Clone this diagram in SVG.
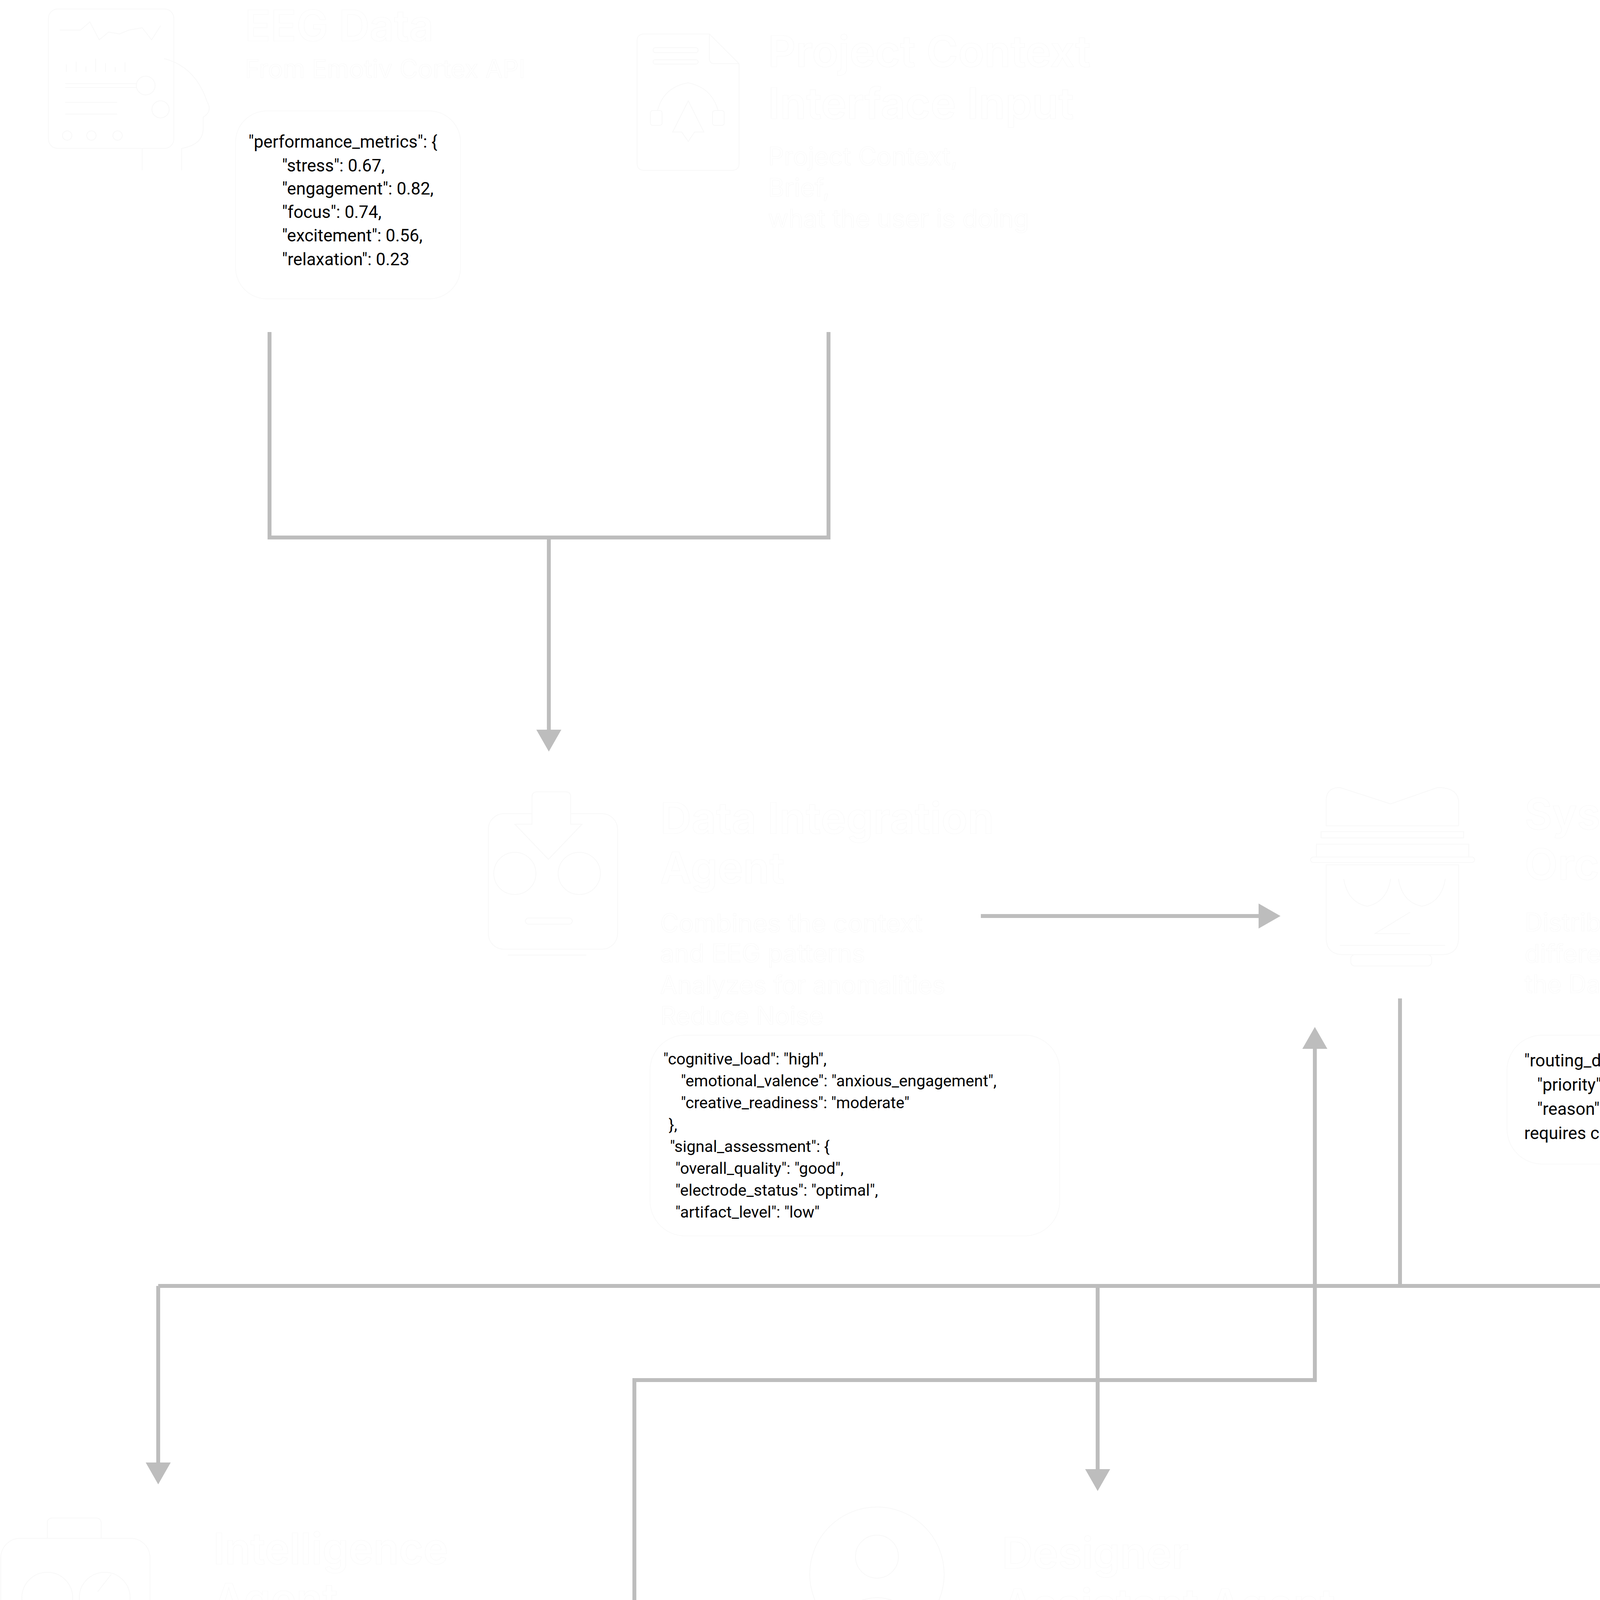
<svg xmlns="http://www.w3.org/2000/svg" width="5715" height="5332" viewBox="0 0 5715 5332">
<defs>
<style>
.ghost{fill:#ffffff;stroke:#f9f9f9;stroke-width:1.2}
.gt{font-family:Inter,"Noto Sans",sans-serif;font-weight:600;font-size:110px}
.gd{font-family:Inter,"Noto Sans",sans-serif;font-weight:400;font-size:64px}
.ic{fill:#ffffff;stroke:#f8f8f8;stroke-width:2}
.box{fill:#ffffff;stroke:#f9f9f9;stroke-width:2}
.j1{font-family:Roboto,"Liberation Sans",sans-serif;font-size:44px;fill:#000000}
.j2{font-family:Roboto,"Liberation Sans",sans-serif;font-size:41px;fill:#000000}
.jr{font-family:Roboto,"Liberation Sans",sans-serif;font-size:44px;fill:#000000}
.j3{font-family:Inter,"Liberation Sans",sans-serif;font-weight:300;font-size:43px;fill:#000000}
.conn{fill:none;stroke:#bdbdbd;stroke-width:10}
</style>
<marker id="arr" markerUnits="userSpaceOnUse" markerWidth="56" markerHeight="64" refX="0" refY="32" orient="auto">
<path d="M0 0 L56 32 L0 64 Z" fill="#bdbdbd"/>
</marker>
</defs>
<rect x="0" y="0" width="5715" height="5332" fill="#ffffff"/>

<g id="connectors" class="conn">
<path d="M690 850 V1376 H2121 V850"/>
<path d="M1405 1376 V1868" marker-end="url(#arr)"/>
<path d="M2511 2345 H3222" marker-end="url(#arr)"/>
<path d="M3584 2556 V3292"/>
<path d="M405 3292 H4884"/>
<path d="M405 3292 V3744" marker-end="url(#arr)"/>
<path d="M2810 3292 V3761" marker-end="url(#arr)"/>
<path d="M4884 3292 V3761" marker-end="url(#arr)"/>
<path d="M1245 4128 H1624 V3533 H3366 V2685" marker-end="url(#arr)"/>
<path d="M3547 4136 H4057" marker-end="url(#arr)"/>
</g>

<g id="node-eeg-data">
<g class="ic">
<rect x="124" y="23" width="321" height="357" rx="24"/>
<polyline fill="none" points="153,77 206,77 230,56 254,102 278,82 306,87 330,77 364,71 388,102 411,66"/>
<path fill="none" d="M170 184V165 M195 184V158 M220 184V170 M245 184V150 M270 184V162 M295 184V172 M320 184V160"/>
<path fill="none" d="M167 214H350 M167 224H350 M167 262H300 M167 292H300"/>
<circle cx="373" cy="219" r="24"/>
<circle cx="411" cy="280" r="22"/>
<circle cx="172" cy="347" r="12"/>
<circle cx="234" cy="347" r="12"/>
<circle cx="301" cy="347" r="12"/>
<path fill="none" d="M364 436 V380 M465 436 V380 Q520 370 520 330 V300 Q545 285 530 260 Q500 170 420 150"/>
</g>
<text class="ghost gt" x="627" y="105" font-size="107" textLength="483" lengthAdjust="spacingAndGlyphs">EEG Data</text>
<text class="ghost gd" x="627" y="199" textLength="718" lengthAdjust="spacingAndGlyphs">From Emotiv Cortex API</text>
<rect class="box" x="603" y="284" width="576" height="481" rx="80"/>
<text class="j1" x="636" y="378">"performance_metrics": {</text>
<text class="j1" x="722" y="439">"stress": 0.67,</text>
<text class="j1" x="722" y="498">"engagement": 0.82,</text>
<text class="j1" x="722" y="558">"focus": 0.74,</text>
<text class="j1" x="722" y="618">"excitement": 0.56,</text>
<text class="j1" x="722" y="679">"relaxation": 0.23</text>
</g>

<g id="node-project-context">
<g class="ic">
<path d="M1631 105 Q1631 87 1649 87 H1816 L1892 163 V418 Q1892 436 1874 436 H1649 Q1631 436 1631 418 Z"/>
<path fill="none" d="M1816 87 V150 Q1816 163 1829 163 H1892"/>
<rect x="1672" y="122" width="115" height="13" rx="6"/>
<rect x="1672" y="153" width="115" height="11" rx="5"/>
<path fill="none" d="M1680 300 Q1690 225 1761 212 Q1830 225 1842 300"/>
<rect x="1665" y="283" width="30" height="38" rx="6"/>
<rect x="1824" y="283" width="30" height="38" rx="6"/>
<path d="M1762 258 L1722 338 L1745 338 L1762 362 L1778 338 L1802 338 Z"/>
</g>
<text class="ghost gt" x="1966" y="171" textLength="826" lengthAdjust="spacingAndGlyphs">Project Context</text>
<text class="ghost gt" x="1966" y="304" textLength="783" lengthAdjust="spacingAndGlyphs">Interface Input</text>
<text class="ghost gd" x="1966" y="423" textLength="486" lengthAdjust="spacingAndGlyphs">Project Context,</text>
<text class="ghost gd" x="1966" y="503">Brief,</text>
<text class="ghost gd" x="1966" y="582" textLength="668" lengthAdjust="spacingAndGlyphs">what the user is doing</text>
</g>

<g id="node-data-integration">
<g class="ic">
<rect x="1250" y="2083" width="331" height="347" rx="40"/>
<path d="M1362 2040 Q1362 2027 1375 2027 H1448 Q1461 2027 1461 2040 V2110 H1490 L1404 2200 L1318 2110 H1362 Z"/>
<circle cx="1318" cy="2236" r="54"/>
<circle cx="1483" cy="2236" r="54"/>
<rect x="1345" y="2350" width="120" height="16" rx="8"/>
<path fill="none" d="M1300 2445 H1501"/>
</g>
<text class="ghost gt" x="1690" y="2134" font-size="112" textLength="855" lengthAdjust="spacingAndGlyphs">Data Integration</text>
<text class="ghost gt" x="1690" y="2261" font-size="112">Agent</text>
<text class="ghost gd" x="1690" y="2386" textLength="672" lengthAdjust="spacingAndGlyphs">Combines the context</text>
<text class="ghost gd" x="1690" y="2463" textLength="525" lengthAdjust="spacingAndGlyphs">and EEG patterns</text>
<text class="ghost gd" x="1690" y="2544" textLength="730" lengthAdjust="spacingAndGlyphs">Analyzes for anomalities</text>
<text class="ghost gd" x="1690" y="2623" textLength="418" lengthAdjust="spacingAndGlyphs">Reduce Noise</text>
<rect class="box" x="1664" y="2650" width="1049" height="514" rx="90"/>
<text class="j2" x="1698" y="2725">"cognitive_load": "high",</text>
<text class="j2" x="1743" y="2781">"emotional_valence": "anxious_engagement",</text>
<text class="j2" x="1743" y="2837">"creative_readiness": "moderate"</text>
<text class="j2" x="1712" y="2893">},</text>
<text class="j2" x="1715" y="2949">"signal_assessment": {</text>
<text class="j2" x="1729" y="3005">"overall_quality": "good",</text>
<text class="j2" x="1729" y="3061">"electrode_status": "optimal",</text>
<text class="j2" x="1729" y="3117">"artifact_level": "low"</text>
</g>

<g id="node-system-orchestrator">
<g class="ic">
<path d="M3395 2114 V2050 Q3395 2016 3430 2016 L3560 2058 L3680 2016 Q3730 2016 3734 2050 V2114 Z"/>
<rect x="3382" y="2129" width="365" height="16"/>
<rect x="3370" y="2161" width="390" height="33"/>
<rect x="3355" y="2194" width="420" height="14" rx="7"/>
<path d="M3395 2214 V2400 Q3395 2444 3440 2444 H3690 Q3734 2444 3734 2400 V2214 Z"/>
<rect x="3458" y="2444" width="207" height="29" rx="10"/>
<path fill="none" d="M3440 2250 Q3450 2310 3500 2320 Q3550 2310 3560 2250 M3580 2250 Q3590 2310 3640 2320 Q3690 2310 3700 2250"/>
<path fill="none" d="M3610 2335 L3520 2390 H3610"/>
<path fill="none" d="M3430 2420 H3700"/>
</g>
<text class="ghost gt" x="3903" y="2123" font-size="112" textLength="393" lengthAdjust="spacingAndGlyphs">System</text>
<text class="ghost gt" x="3903" y="2252" font-size="112" textLength="680" lengthAdjust="spacingAndGlyphs">Orchestrator</text>
<text class="ghost gd" x="3903" y="2384" textLength="594" lengthAdjust="spacingAndGlyphs">Distributes Tasks to</text>
<text class="ghost gd" x="3903" y="2464" textLength="784" lengthAdjust="spacingAndGlyphs">different Agents based on</text>
<text class="ghost gd" x="3903" y="2542" textLength="250" lengthAdjust="spacingAndGlyphs">the Data</text>
<rect class="box" x="3858" y="2650" width="1075" height="330" rx="90"/>
<text class="jr" x="3902" y="2730">"routing_decision": {</text>
<text class="jr" x="3935" y="2792">"priority": "high",</text>
<text class="jr" x="3935" y="2854">"reason": "High engagement with elevated stress</text>
<text class="jr" x="3902" y="2916">requires cognitive analysis"</text>
</g>

<g id="node-intelligence-agent">
<g class="ic">
<path d="M121 3938 V3900 Q121 3886 135 3886 H245 Q259 3886 259 3900 V3938 Z"/>
<rect x="2" y="3938" width="382" height="373" rx="50"/>
<rect x="67" y="4311" width="246" height="34" rx="10"/>
<circle cx="121" cy="4090" r="65"/>
<circle cx="268" cy="4090" r="65"/>
<path fill="none" d="M250 4075 L285 4030"/>
<path fill="none" d="M130 4240 Q190 4290 240 4205"/>
<circle cx="92" cy="4170" r="9"/>
<circle cx="300" cy="4170" r="9"/>
<circle cx="65" cy="4215" r="9"/>
<circle cx="330" cy="4220" r="9"/>
</g>
<text class="ghost gt" x="546" y="4004" textLength="601" lengthAdjust="spacingAndGlyphs">Intelligence</text>
<text class="ghost gt" x="546" y="4133">Agent</text>
<circle class="ghost" cx="578" cy="4282" r="9"/>
<circle class="ghost" cx="578" cy="4443" r="9"/>
<text class="ghost gd" x="629" y="4299" textLength="648" lengthAdjust="spacingAndGlyphs">Understands the EEG</text>
<text class="ghost gd" x="629" y="4380">patterns</text>
<text class="ghost gd" x="629" y="4460" textLength="688" lengthAdjust="spacingAndGlyphs">Emotional Wellbeing of</text>
<text class="ghost gd" x="629" y="4540" textLength="563" lengthAdjust="spacingAndGlyphs">designer and more</text>
<rect class="box" x="469" y="4609" width="931" height="691" rx="90"/>
<text class="j3" x="527" y="4697">"cognitive_analysis"</text>
<text class="j3" x="527" y="4750">"pattern_recognition"</text>
<text class="j3" x="527" y="4802">"intervention_recommendations": [</text>
<text class="j3" x="574" y="4855">{</text>
<text class="j3" x="600" y="4907">"type": "microbreak",</text>
<text class="j3" x="600" y="4960">"urgency": "medium",</text>
<text class="j3" x="600" y="5012">"duration": "120s"</text>
<text class="j3" x="574" y="5065">},</text>
<text class="j3" x="574" y="5117">{</text>
<text class="j3" x="600" y="5170">"type": "breathing_exercise",</text>
<text class="j3" x="600" y="5222">"effectiveness_estimate": 0.85</text>
</g>

<g id="node-designer-assistant">
<g class="ic">
<circle cx="2245" cy="4030" r="172"/>
<circle cx="2245" cy="3985" r="55"/>
<path fill="none" d="M2150 4130 Q2245 4050 2340 4130"/>
</g>
<text class="ghost gt" x="2565" y="4015" textLength="478" lengthAdjust="spacingAndGlyphs">Designer</text>
<text class="ghost gt" x="2565" y="4147" textLength="853" lengthAdjust="spacingAndGlyphs">Assistant Agent</text>
<text class="ghost gd" x="2565" y="4265" textLength="875" lengthAdjust="spacingAndGlyphs">Converses with the Designer</text>
<text class="ghost gd" x="2565" y="4345" textLength="607" lengthAdjust="spacingAndGlyphs">Acts as an Assistant</text>
<rect class="box" x="2000" y="4411" width="1392" height="839" rx="90"/>
<text class="j3" x="2062" y="4494">{</text>
<text class="j3" x="2086" y="4546">"user_facing_response": "Your cognitive metrics show strong</text>
<text class="j3" x="2062" y="4598">focus (74%) and engagement (82%), but elevated stress (67%).</text>
<text class="j3" x="2062" y="4650">I recommend a 2-minute breathing exercise to maintain</text>
<text class="j3" x="2062" y="4702">performance without burnout. Would you like to start a guided</text>
<text class="j3" x="2062" y="4754">session now?",</text>
<text class="j3" x="2086" y="4806">"notification_settings": {</text>
<text class="j3" x="2115" y="4857">"urgency": "medium",</text>
<text class="j3" x="2115" y="4909">"delivery_channels": ["visual", "haptic"]</text>
<text class="j3" x="2077" y="4961">},</text>
<text class="j3" x="2086" y="5013">"response_options": [</text>
<text class="j3" x="2105" y="5065">{"id": "start_breathing", "label": "Start breathing exercise"},</text>
<text class="j3" x="2105" y="5117">{"id": "snooze_5", "label": "Remind me in 5 minutes"},</text>
<text class="j3" x="2105" y="5169">{"id": "dismiss", "label": "I'm feeling fine"}</text>
</g>

<g id="node-studio-mcp">
<g class="ic">
<path d="M4260 4300 V4140 Q4215 4040 4240 3950 Q4280 3880 4380 3880 Q4420 3870 4470 3885 Q4570 3900 4600 3990 Q4620 4080 4575 4160 V4280 Q4575 4300 4555 4300 Z"/>
<path fill="none" d="M4265 4040 Q4330 4060 4390 4030 Q4440 4000 4480 4040 Q4530 4060 4560 4040"/>
<circle cx="4356" cy="4167" r="55"/>
<circle cx="4487" cy="4167" r="55"/>
<path fill="none" d="M4411 4167 H4432"/>
<rect x="4361" y="4253" width="120" height="12" rx="6"/>
<rect x="4317" y="4299" width="208" height="35" rx="8"/>
</g>
<text class="ghost gt" x="4711" y="4024" textLength="864" lengthAdjust="spacingAndGlyphs">Studio And MCP</text>
<text class="ghost gt" x="4711" y="4156">Agent</text>
<text class="ghost gd" x="4700" y="4311" textLength="859" lengthAdjust="spacingAndGlyphs">Integrates with the interface</text>
<circle class="ghost" cx="4746" cy="4368" r="9"/>
<circle class="ghost" cx="4746" cy="4449" r="9"/>
<text class="ghost gd" x="4804" y="4388" textLength="449" lengthAdjust="spacingAndGlyphs">Timeline Points</text>
<text class="ghost gd" x="4804" y="4469" textLength="854" lengthAdjust="spacingAndGlyphs">Select Best option and more</text>
<text class="ghost gd" x="4700" y="4627" textLength="886" lengthAdjust="spacingAndGlyphs">and also sends data to MCPs</text>
</g>
</svg>
